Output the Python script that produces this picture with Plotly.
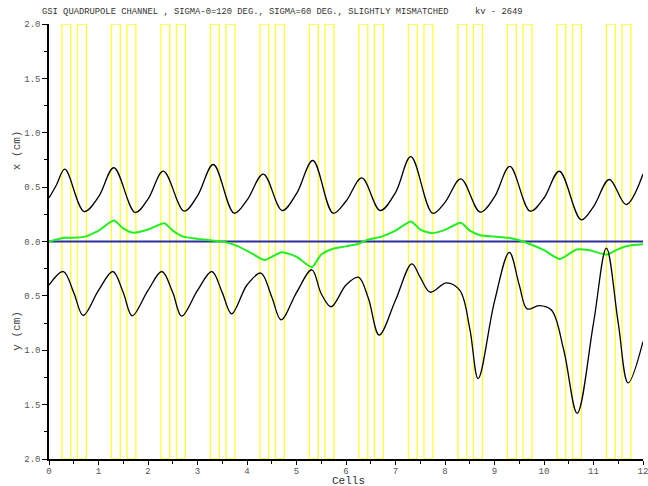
import plotly.graph_objects as go

# Quadrupole positions within each cell (fraction of cell length)
n_cells = 12
quad_starts = [0.26, 0.575]
quad_ends = [0.44, 0.755]

# Beam envelope in x (cm)
x_env_cell = [0, 0.15, 0.32, 0.71, 1.0, 1.31, 1.74, 2.0, 2.31, 2.73,
              3.0, 3.32, 3.74, 4.0, 4.33, 4.71, 5.0, 5.33, 5.74,
              6.0, 6.32, 6.69, 7.0, 7.31, 7.75, 8.0, 8.32, 8.71,
              9.0, 9.31, 9.72, 10.0, 10.31, 10.75, 11.0, 11.32,
              11.66, 12.0]
x_env = [0.40, 0.52, 0.665, 0.276, 0.41, 0.678, 0.267, 0.39, 0.647,
         0.279, 0.42, 0.708, 0.26, 0.38, 0.62, 0.285, 0.44, 0.745,
         0.26, 0.37, 0.585, 0.285, 0.45, 0.78, 0.26, 0.36, 0.576,
         0.27, 0.41, 0.69, 0.279, 0.40, 0.646, 0.20, 0.32, 0.57,
         0.34, 0.62]

# Beam envelope in y (cm), plotted downward
y_env_cell = [0, 0.29, 0.5, 0.69, 1.0, 1.29, 1.5, 1.68, 2.0, 2.28, 2.5, 2.68, 3.0,
              3.29, 3.5, 3.69, 4.0, 4.28, 4.5, 4.69, 5.0, 5.31, 5.5, 5.70, 6.0,
              6.25, 6.45, 6.67, 7.0, 7.33, 7.5, 7.70, 8.03, 8.3, 8.5, 8.67, 9.0,
              9.30, 9.5, 9.66, 9.9, 10.15, 10.4, 10.67, 11.0, 11.26, 11.5, 11.7, 12.0]
y_env = [0.40, 0.276, 0.47, 0.68, 0.45, 0.276, 0.47, 0.683, 0.45, 0.276, 0.47, 0.687,
         0.45, 0.276, 0.47, 0.665, 0.40, 0.29, 0.51, 0.72, 0.47, 0.26, 0.48, 0.60,
         0.40, 0.328, 0.52, 0.86, 0.54, 0.205, 0.33, 0.466, 0.38, 0.45, 0.80, 1.26,
         0.55, 0.10, 0.40, 0.62, 0.59, 0.63, 1.00, 1.58, 0.75, 0.06, 0.75, 1.30, 0.92]

# Beam centroid in x (cm)
cx_cell = [0, 0.32, 0.55, 0.73, 1.0, 1.31, 1.5, 1.70, 2.0, 2.33, 2.5, 2.71, 3.0,
           3.29, 3.55, 3.8, 4.06, 4.36, 4.70, 5.0, 5.31, 5.5, 5.74, 6.0, 6.25,
           6.45, 6.72, 7.0, 7.31, 7.5, 7.73, 8.0, 8.32, 8.5, 8.71, 9.0, 9.28,
           9.58, 10.0, 10.32, 10.66, 10.9, 11.27, 11.5, 11.7, 12.0]
cx = [0, 0.034, 0.036, 0.045, 0.10, 0.193, 0.12, 0.08, 0.11, 0.168, 0.10, 0.045,
      0.025, 0.01, -0.005, -0.04, -0.10, -0.17, -0.098, -0.14, -0.236, -0.12,
      -0.067, -0.045, -0.02, 0.018, 0.045, 0.10, 0.184, 0.11, 0.077, 0.107, 0.172,
      0.10, 0.058, 0.045, 0.034, 0.0, -0.08, -0.16, -0.074, -0.078, -0.12, -0.07,
      -0.04, -0.026]

y_tick_vals = [-2, -1.5, -1, -0.5, 0, 0.5, 1, 1.5, 2]
y_tick_text = ["2.0", "1.5", "1.0", "0.5", "0.0", "0.5", "1.0", "1.5", "2.0"]

title_main = "GSI QUADRUPOLE CHANNEL , SIGMA-0=120 DEG., SIGMA=60 DEG., SLIGHTLY MISMATCHED"
title_run = "kv - 2649"

MONO = "Courier New, Liberation Mono, monospace"
W, H = 648, 486
L, R, T, B = 49, 5, 24, 27
pw, ph = W - L - R, H - T - B

fig = go.Figure()

# quadrupole outlines
shapes = []
for k in range(n_cells):
    for s, e in zip(quad_starts, quad_ends):
        shapes.append(dict(type="rect", xref="x", yref="y", x0=k + s, x1=k + e,
                           y0=-2, y1=2, line=dict(color="#ffff33", width=1.3),
                           fillcolor="rgba(0,0,0,0)", layer="below"))

fig.add_trace(go.Scatter(x=[0, n_cells], y=[0, 0], mode="lines",
                         line=dict(color="#2c2ca0", width=2), hoverinfo="skip"))
fig.add_trace(go.Scatter(x=cx_cell, y=cx, mode="lines",
                         line=dict(color="#22ee22", width=2, shape="spline", smoothing=0.6)))
fig.add_trace(go.Scatter(x=x_env_cell, y=x_env, mode="lines",
                         line=dict(color="black", width=1.3, shape="spline", smoothing=1.0)))
fig.add_trace(go.Scatter(x=y_env_cell, y=[-v for v in y_env], mode="lines",
                         line=dict(color="black", width=1.3, shape="spline", smoothing=1.0)))

annotations = [
    dict(text=title_main, xref="paper", yref="paper", x=(40 - L) / pw, y=1 + (T - 12) / ph,
         xanchor="left", yanchor="middle", showarrow=False,
         font=dict(family=MONO, size=8.8, color="#333333")),
    dict(text=title_run, xref="paper", yref="paper", x=(473 - L) / pw, y=1 + (T - 12) / ph,
         xanchor="left", yanchor="middle", showarrow=False,
         font=dict(family=MONO, size=8.8, color="#333333")),
    dict(text="x (cm)", xref="paper", yref="y", x=(17 - L) / pw, y=0.84, textangle=-90,
         xanchor="center", yanchor="middle", showarrow=False,
         font=dict(family=MONO, size=11, color="#444444")),
    dict(text="y (cm)", xref="paper", yref="y", x=(17 - L) / pw, y=-0.82, textangle=-90,
         xanchor="center", yanchor="middle", showarrow=False,
         font=dict(family=MONO, size=11, color="#444444")),
    dict(text="Cells", xref="paper", yref="paper", x=(348 - L) / pw, y=-(481 - (T + ph)) / ph,
         xanchor="center", yanchor="middle", showarrow=False,
         font=dict(family=MONO, size=11, color="#333333")),
]

fig.update_layout(
    width=W, height=H, margin=dict(l=L, r=R, t=T, b=B),
    paper_bgcolor="white", plot_bgcolor="white", showlegend=False,
    shapes=shapes, annotations=annotations,
    xaxis=dict(range=[0, n_cells], tickmode="linear", tick0=0, dtick=1, automargin=False,
               showgrid=False, zeroline=False, showline=True, linecolor="black", linewidth=1.5,
               ticks="outside", ticklen=4, tickcolor="black", tickwidth=1,
               ticklabeloverflow="allow", ticklabelstandoff=-2,
               minor=dict(dtick=0.5, ticks="outside", ticklen=3, tickcolor="black"),
               tickfont=dict(family=MONO, size=9, color="#555555")),
    yaxis=dict(range=[-2, 2], tickvals=y_tick_vals, ticktext=y_tick_text, automargin=False,
               showgrid=False, zeroline=False, showline=True, linecolor="black", linewidth=1.5,
               ticks="outside", ticklen=5, tickcolor="black", tickwidth=1,
               minor=dict(tickvals=[-1.75, -1.25, -0.75, -0.25, 0.25, 0.75, 1.25, 1.75],
                          ticks="outside", ticklen=3, tickcolor="black"),
               tickfont=dict(family=MONO, size=9, color="#555555")),
)

fig.write_html("out.html")
